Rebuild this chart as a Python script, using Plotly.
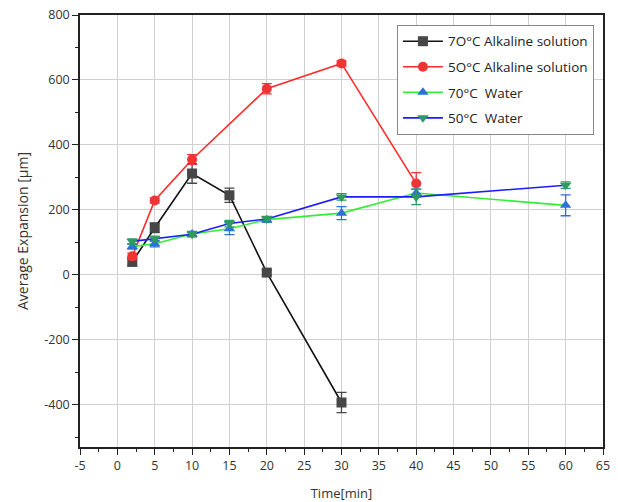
import plotly.graph_objects as go

# Data
t_alk70 = [2, 5, 10, 15, 20, 30]
v_alk70 = [40, 145, 312, 245, 7, -393]
e_alk70 = [12, 15, 30, 22, 8, 31]

t_alk50 = [2, 5, 10, 20, 30, 40]
v_alk50 = [57, 229, 355, 573, 651, 281]
e_alk50 = [10, 8, 15, 16, 8, 34]

t_w70 = [2, 5, 10, 15, 20, 30, 40, 60]
v_w70 = [87, 96, 126, 142, 170, 190, 252, 214]
e_w70 = [8, 10, 8, 18, 8, 20, 12, 32]

t_w50 = [2, 5, 10, 15, 20, 30, 40, 60]
v_w50 = [103, 111, 125, 158, 172, 240, 240, 276]
e_w50 = [8, 8, 8, 10, 8, 10, 24, 10]

names = ["7O°C Alkaline solution", "5O°C Alkaline solution", "70°C  Water", "50°C  Water"]

x_ticks = list(range(-5, 70, 5))
x_labels = [str(v) for v in x_ticks]
y_ticks = [-400, -200, 0, 200, 400, 600, 800]
y_labels = [str(v) for v in y_ticks]

fig = go.Figure()

def add(t, v, e, name, lc, mc, sym):
    fig.add_trace(go.Scatter(
        x=t, y=v, name=name, mode="lines+markers", legendgroup=name,
        line=dict(color=lc, width=1.6),
        marker=dict(color=mc, symbol=sym, size=10),
        error_y=dict(type="data", array=e, visible=True, color=mc, thickness=1.3, width=5),
    ))

add(t_alk70, v_alk70, e_alk70, names[0], "#111111", "#474747", "square")
add(t_alk50, v_alk50, e_alk50, names[1], "#ff2a2a", "#ee3434", "circle")
add(t_w70, v_w70, e_w70, names[2], "#33ee33", "#2a72d8", "triangle-up")
add(t_w50, v_w50, e_w50, names[3], "#1c1cff", "#2e9960", "triangle-down")

font = "Open Sans, Liberation Sans, sans-serif"
axis_common = dict(
    showline=True, linecolor="#222222", linewidth=1.5, mirror=True,
    showgrid=True, gridcolor="#d0d0d0", gridwidth=1,
    ticks="outside", ticklen=6, tickwidth=1.3, tickcolor="#222222",
    tickfont=dict(size=12.5, color="#333333", family=font),
    zeroline=False, automargin=False,
)

fig.update_layout(
    width=618, height=502,
    margin=dict(l=80, r=15, t=15, b=55),
    paper_bgcolor="white", plot_bgcolor="white",
    font=dict(family=font, size=12, color="#333333"),
    showlegend=True,
    legend=dict(
        x=0.606, y=0.977, xanchor="left", yanchor="top",
        bgcolor="white", bordercolor="#888888", borderwidth=1,
        font=dict(size=13.5, color="#222222", family=font),
        tracegroupgap=5, itemwidth=40,
    ),
    xaxis=dict(
        range=[-5, 65], tickvals=x_ticks, ticktext=x_labels,
        title=dict(text="Time[min]", font=dict(size=13, color="#333333"), standoff=22),
        minor=dict(ticks="outside", ticklen=3, tickcolor="#222222", dtick=2.5, tick0=0, showgrid=False),
        **axis_common,
    ),
    yaxis=dict(
        range=[-530, 800], tickvals=y_ticks, ticktext=y_labels,
        title=dict(text="Average Expansion [µm]", font=dict(size=14, color="#333333"), standoff=12),
        minor=dict(ticks="outside", ticklen=3, tickcolor="#222222", dtick=100, tick0=0, showgrid=False),
        **axis_common,
    ),
)

fig.write_html("out.html", config={"displayModeBar": False},
               post_script="document.body.style.margin='0';")
